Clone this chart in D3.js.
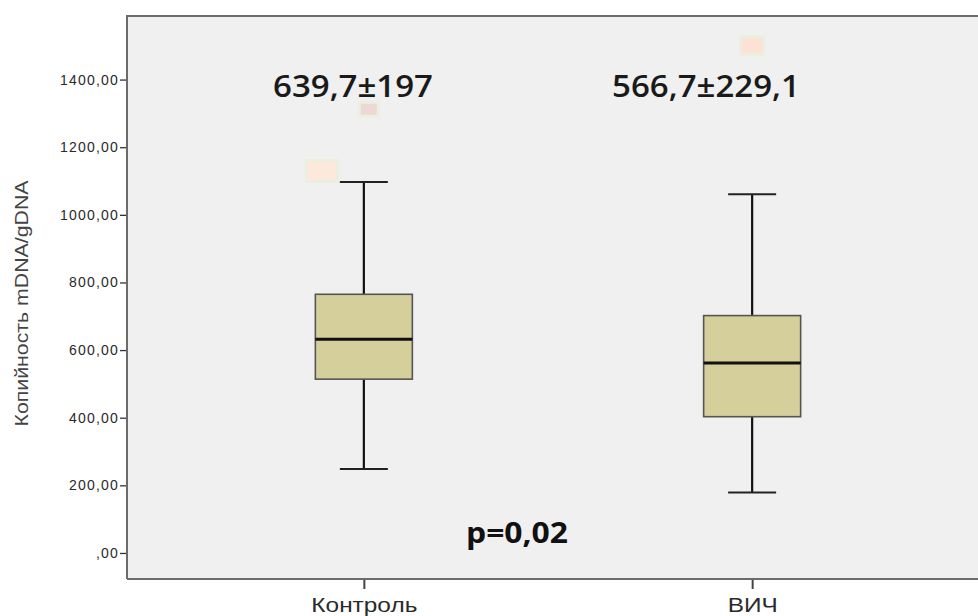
<!DOCTYPE html>
<html>
<head>
<meta charset="utf-8">
<script src="https://cdn.jsdelivr.net/npm/d3@7"></script>
<style>
  html, body { margin: 0; padding: 0; background: #ffffff; }
  svg { display: block; }
</style>
</head>
<body>
<svg id="chart" width="978" height="616"></svg>
<script>
// Groups and five-number summaries (mtDNA copy number per genomic DNA)
const groups = ["Контроль", "ВИЧ"];
const whiskerLow  = [248, 179];
const q1          = [514, 403];
const median      = [632, 562];
const q3          = [765, 702];
const whiskerHigh = [1097, 1061];

// Outlying observations: group index and value
const outlierGroup = [0, 0, 1];
const outlierValue = [1312, 1130, 1500];

// Group summaries printed above each box
const meanLabels = ["639,7±197", "566,7±229,1"];
const pLabel = "p=0,02";

const yTicks = [0, 200, 400, 600, 800, 1000, 1200, 1400];
const yTitle = "Копийность mDNA/gDNA";

// Layout
const svg = d3.select("#chart");
const plot = { left: 127, top: 16, right: 989, bottom: 579 };

const y = d3.scaleLinear().domain([-77, 1588]).range([plot.bottom, plot.top]);
const x = d3.scalePoint().domain(groups).range([plot.left, plot.right]).padding(0.61);

const fmt = v => v === 0 ? ",00" : d3.format(".2f")(v).replace(".", ",");

// Plot background
svg.append("rect")
  .attr("x", plot.left).attr("y", plot.top)
  .attr("width", plot.right - plot.left).attr("height", plot.bottom - plot.top)
  .attr("fill", "#f0f0f0");

// Y axis
const yAxis = svg.append("g")
  .attr("transform", `translate(${plot.left},0)`)
  .call(d3.axisLeft(y).tickValues(yTicks).tickFormat(fmt).tickSize(7).tickPadding(1));
yAxis.select(".domain").remove();
yAxis.selectAll(".tick line").attr("stroke", "#333").attr("stroke-width", 1.3);
yAxis.selectAll(".tick text")
  .attr("font-family", "Liberation Sans, Arial, sans-serif")
  .attr("font-size", 14).attr("fill", "#2a2a2a")
  .attr("letter-spacing", 1.2);

// X axis
const xAxis = svg.append("g")
  .attr("transform", `translate(0,${plot.bottom})`)
  .call(d3.axisBottom(x).tickSize(10).tickPadding(8));
xAxis.select(".domain").remove();
xAxis.selectAll(".tick line").attr("stroke", "#444").attr("stroke-width", 2);
xAxis.selectAll(".tick text")
  .attr("font-family", "Liberation Sans, Arial, sans-serif")
  .attr("font-size", 21).attr("fill", "#2a2a2a")
  .attr("textLength", (d, i) => i === 0 ? 106 : 50)
  .attr("lengthAdjust", "spacingAndGlyphs");

// Frame lines (left, top and bottom)
svg.append("path")
  .attr("d", `M${plot.left},${plot.bottom}V${plot.top}H${978}`)
  .attr("fill", "none").attr("stroke", "#6b6b6b").attr("stroke-width", 2);
svg.append("line")
  .attr("x1", plot.left).attr("x2", 978)
  .attr("y1", plot.bottom).attr("y2", plot.bottom)
  .attr("stroke", "#6b6b6b").attr("stroke-width", 2);

// Y axis title
svg.append("text")
  .attr("transform", `translate(28,${(180 + 427) / 2}) rotate(-90)`)
  .attr("text-anchor", "middle")
  .attr("font-family", "Liberation Sans, Arial, sans-serif")
  .attr("font-size", 19).attr("fill", "#444")
  .attr("textLength", 246).attr("lengthAdjust", "spacingAndGlyphs")
  .text(yTitle);

// Boxes
const boxW = 97, capW = 48;
const g = svg.append("g");
groups.forEach((name, i) => {
  const cx = x(name);
  // whiskers
  g.append("line").attr("x1", cx).attr("x2", cx)
    .attr("y1", y(whiskerHigh[i])).attr("y2", y(q3[i]))
    .attr("stroke", "#111").attr("stroke-width", 2.2);
  g.append("line").attr("x1", cx).attr("x2", cx)
    .attr("y1", y(q1[i])).attr("y2", y(whiskerLow[i]))
    .attr("stroke", "#111").attr("stroke-width", 2.2);
  // caps
  [whiskerHigh[i], whiskerLow[i]].forEach(v => {
    g.append("line").attr("x1", cx - capW / 2).attr("x2", cx + capW / 2)
      .attr("y1", y(v)).attr("y2", y(v))
      .attr("stroke", "#222").attr("stroke-width", 2);
  });
  // box
  g.append("rect")
    .attr("x", cx - boxW / 2).attr("y", y(q3[i]))
    .attr("width", boxW).attr("height", y(q1[i]) - y(q3[i]))
    .attr("fill", "#d4cf9b").attr("stroke", "#555").attr("stroke-width", 1.6);
  // median
  g.append("line").attr("x1", cx - boxW / 2).attr("x2", cx + boxW / 2)
    .attr("y1", y(median[i])).attr("y2", y(median[i]))
    .attr("stroke", "#111").attr("stroke-width", 3);
});

// Outlier markers (faint tinted squares)
const markerDx = [5, -42, 0];
const markerW = [16, 28, 20];
const markerH = [11, 18, 15];
const markerFill = ["#efd7d5", "#fde8dc", "#fde2d3"];
outlierValue.forEach((v, k) => {
  const cx = x(groups[outlierGroup[k]]) + markerDx[k];
  const cy = y(v);
  g.append("rect")
    .attr("x", cx - markerW[k] / 2 - 3).attr("y", cy - markerH[k] / 2 - 3)
    .attr("width", markerW[k] + 6).attr("height", markerH[k] + 6)
    .attr("fill", "#ebefdf");
  g.append("rect")
    .attr("x", cx - markerW[k] / 2).attr("y", cy - markerH[k] / 2)
    .attr("width", markerW[k]).attr("height", markerH[k])
    .attr("fill", markerFill[k]);
});

// Annotations
const annX = [353, 706];
const annW = [160, 188];
meanLabels.forEach((t, i) => {
  svg.append("text")
    .attr("x", annX[i]).attr("y", 97)
    .attr("text-anchor", "middle")
    .attr("font-family", "Open Sans, sans-serif")
    .attr("font-weight", 600)
    .attr("font-size", 31).attr("fill", "#1a1a1a")
    .attr("textLength", annW[i]).attr("lengthAdjust", "spacingAndGlyphs")
    .text(t);
});
svg.append("text")
  .attr("x", 517).attr("y", 543)
  .attr("text-anchor", "middle")
  .attr("font-family", "Open Sans, sans-serif")
  .attr("font-weight", 700)
  .attr("font-size", 28).attr("fill", "#111")
  .attr("textLength", 102).attr("lengthAdjust", "spacingAndGlyphs")
  .text(pLabel);
</script>
</body>
</html>
